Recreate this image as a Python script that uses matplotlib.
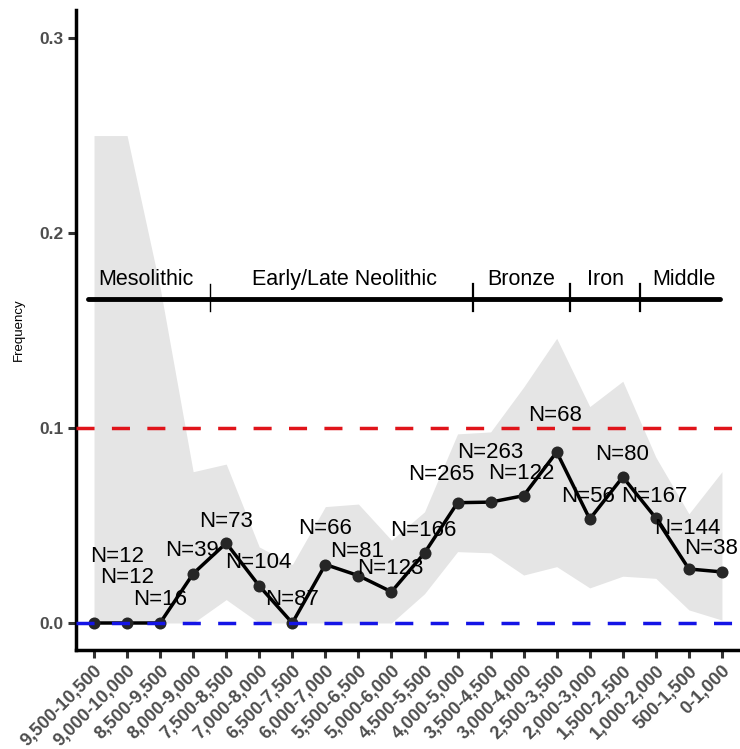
import matplotlib
matplotlib.use("Agg")
import matplotlib.pyplot as plt
import numpy as np

# Binned date ranges (cal BP) and observed frequencies
categories = [
    "9,500-10,500", "9,000-10,000", "8,500-9,500", "8,000-9,000",
    "7,500-8,500", "7,000-8,000", "6,500-7,500", "6,000-7,000",
    "5,500-6,500", "5,000-6,000", "4,500-5,500", "4,000-5,000",
    "3,500-4,500", "3,000-4,000", "2,500-3,500", "2,000-3,000",
    "1,500-2,500", "1,000-2,000", "500-1,500", "0-1,000",
]
freq = [0.0, 0.0, 0.0, 0.0253, 0.041, 0.019, 0.0, 0.030, 0.0243, 0.016,
        0.0359, 0.0617, 0.062, 0.0653, 0.0877, 0.0533, 0.0749, 0.0538,
        0.0277, 0.0262]
ci_upper = [0.25, 0.25, 0.172, 0.0776, 0.0815, 0.039, 0.030, 0.0597, 0.061,
            0.0425, 0.057, 0.097, 0.098, 0.121, 0.146, 0.111, 0.124, 0.085,
            0.056, 0.0776]
ci_lower = [0.0, 0.0, 0.0, 0.0, 0.012, 0.0, 0.0, 0.0, 0.0, 0.0, 0.015,
            0.0366, 0.036, 0.0246, 0.0289, 0.018, 0.024, 0.0229, 0.0067,
            0.0015]
n_samples = [12, 12, 16, 39, 73, 104, 87, 66, 81, 123, 166, 265, 263, 122,
             68, 56, 80, 167, 144, 38]

# Cultural periods along the bar (names, label centres, boundaries on the category axis)
periods = ["Mesolithic", "Early/Late Neolithic", "Bronze", "Iron", "Middle"]
period_centres = [1.57, 7.58, 12.92, 15.49, 17.85]
period_bounds = [3.50, 11.46, 14.39, 16.51]

# Label offsets in pixels (repelled text positions)
label_dx = [23, 0, 0, -1.5, 0, -1, 0, 0, -1.7, -1.5, -1, -16, 0, -2, -1.7,
            -1.5, -1, -2, -1.6, -11]
label_dy = [66, 45, 23, 23, 22, 23, 23, 36, 24, 23, 23, 28, 50, 22, 37,
            23, 22, 22, 40, 23]

plt.rcParams['font.family'] = ['Liberation Sans', 'DejaVu Sans']

fig = plt.figure(figsize=(7.4, 7.49), dpi=100)
ax = fig.add_axes([76 / 740, (749 - 650) / 749, (740 - 76) / 740, (650 - 10) / 749])

x = np.arange(len(categories))

ax.fill_between(x, ci_lower, ci_upper, color='#e5e5e5', linewidth=0, zorder=1)

ax.axhline(0.1, color='#e0141a', linewidth=2.5, dashes=(5.2, 5.0), zorder=3)
ax.axhline(0.0, color='#1414e6', linewidth=2.5, dashes=(5.2, 5.0), zorder=5)

ax.plot(x, freq, color='black', linewidth=2.5, zorder=4)
ax.scatter(x, freq, s=75, color='#262626', zorder=4, linewidths=0)

for xi, yi, n, dx, dy in zip(x, freq, n_samples, label_dx, label_dy):
    ax.annotate(f"N={n}", (xi, yi), xytext=(dx, dy), textcoords='offset pixels',
                ha='center', va='center', fontsize=16, color='black', zorder=6)

# Period bar
bar_y = 0.166
ax.plot([-0.18, 18.94], [bar_y, bar_y], color='black', linewidth=3.5,
        solid_capstyle='round', zorder=6)
for i, b in enumerate(period_bounds):
    ax.plot([b, b], [0.160, 0.1738], color='black',
            linewidth=1.0 if i == 0 else 1.6, zorder=6)
for name, c in zip(periods, period_centres):
    ax.text(c, 0.1735, name, ha='center', va='baseline', fontsize=15.5, zorder=6)

ax.set_xlim(-0.545, 19.546)
ax.set_ylim(-0.01385, 0.3144)
ax.set_yticks([0.0, 0.1, 0.2, 0.3])
ax.set_yticklabels(["0.0", "0.1", "0.2", "0.3"])
ax.set_xticks(x)
ax.set_xticklabels(categories, rotation=45, ha='right', va='top',
                   rotation_mode='anchor')

for lab in ax.get_xticklabels():
    lab.set_fontweight('bold')
    lab.set_color('#4d4d4d')
    lab.set_fontsize(13)
for lab in ax.get_yticklabels():
    lab.set_fontweight('bold')
    lab.set_color('#4d4d4d')
    lab.set_fontsize(12.5)

ax.tick_params(axis='both', direction='out', length=6, width=2.2, color='#333333', pad=3)
ax.set_ylabel("Frequency", fontsize=9.5, labelpad=10)

for side in ['top', 'right']:
    ax.spines[side].set_visible(False)
for side in ['left', 'bottom']:
    ax.spines[side].set_linewidth(2.5)
    ax.spines[side].set_color('black')

fig.savefig("out.png", dpi=100)
